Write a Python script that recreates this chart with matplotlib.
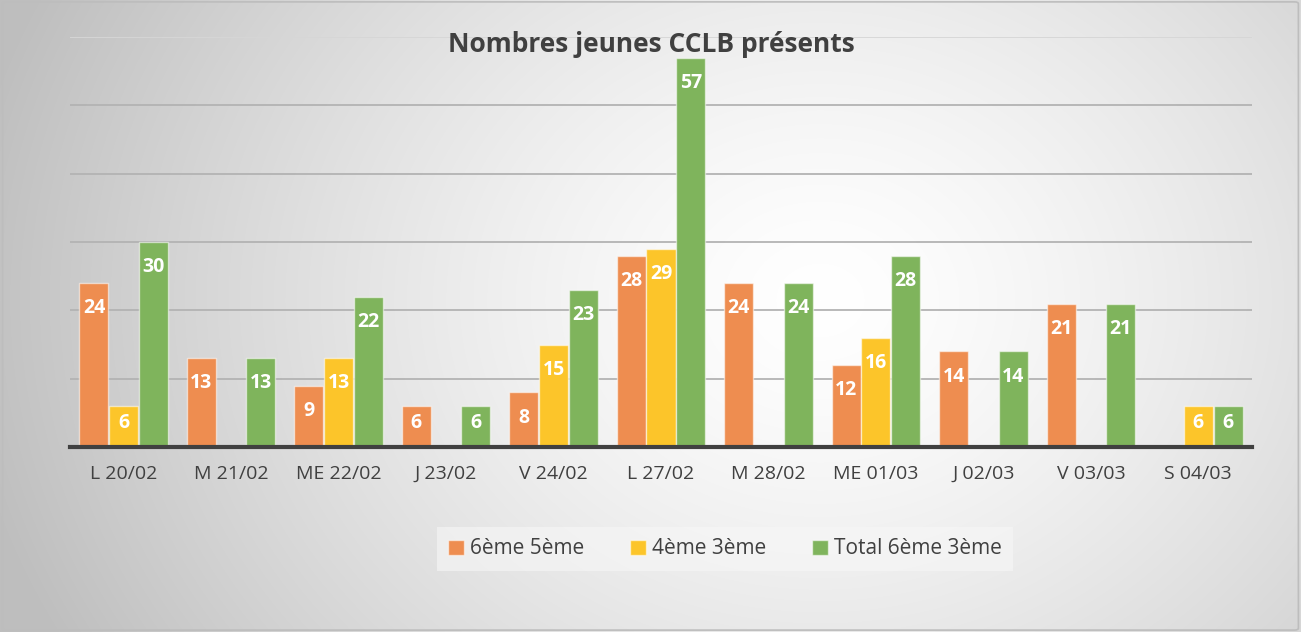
import numpy as np
import matplotlib
matplotlib.use("Agg")
import matplotlib.pyplot as plt
from matplotlib.patches import FancyBboxPatch

plt.rcParams['font.family'] = ['Open Sans', 'DejaVu Sans']

categories = ["L 20/02", "M 21/02", "ME 22/02", "J 23/02", "V 24/02", "L 27/02",
              "M 28/02", "ME 01/03", "J 02/03", "V 03/03", "S 04/03"]
s_65 = [24, 13, 9, 6, 8, 28, 24, 12, 14, 21, 0]
s_43 = [6, 0, 13, 0, 15, 29, 0, 16, 0, 0, 6]
s_tot = [30, 13, 22, 6, 23, 57, 24, 28, 14, 21, 6]
series_names = ["6ème 5ème", "4ème 3ème", "Total 6ème 3ème"]
colors = ["#EE8D50", "#FCC52A", "#7FB45C"]
title = "Nombres jeunes CCLB présents"

W, H = 1301, 632
fig = plt.figure(figsize=(W / 100, H / 100), dpi=100)

# background radial gradient
bg = fig.add_axes([0, 0, 1, 1], zorder=-10)
yy, xx = np.mgrid[0:H, 0:W]
r = np.sqrt(((xx - 820) / 1.0) ** 2 + ((yy - 300) * 1.2) ** 2)
g = 255 - 60 * np.clip(r / 820, 0, 1.3) ** 1.4
g = np.clip(g, 190, 255) / 255.0
img = np.dstack([g, g, g])
bg.imshow(img, aspect='auto', extent=[0, 1, 0, 1], origin='upper')
bg.add_patch(FancyBboxPatch((0.002, 0.003), 0.996, 0.994, boxstyle="round,pad=0,rounding_size=0.003",
                            transform=bg.transAxes, fill=False, edgecolor="#bdbdbd", lw=1.2))
bg.set_xlim(0, 1); bg.set_ylim(0, 1)
bg.axis('off')

ax = fig.add_axes([70 / W, 1 - 447 / H, (1252 - 70) / W, (447 - 37) / H])
ax.set_facecolor('none')
x = np.arange(len(categories))
bw = 0.27
series = [s_65, s_43, s_tot]
for i, (vals, c, name) in enumerate(zip(series, colors, series_names)):
    xs = x + (i - 1) * (bw + 0.007)
    v = np.array(vals, dtype=float)
    mask = v > 0
    ax.bar(xs[mask], v[mask], width=bw, color=c, edgecolor=(1, 1, 1, 0.55), linewidth=1.0,
           label=name, zorder=3)
    for xi, vi in zip(xs[mask], v[mask]):
        off = 3.7 if vi >= 8 else 2.5
        ax.text(xi, vi - off, f"{int(vi)}", ha='center', va='center', color='white',
                fontsize=14, fontweight='bold', zorder=4)

ax.set_xlim(-0.5, len(categories) - 0.5)
ax.set_ylim(0, 60)
ax.set_yticks(np.arange(0, 51, 10))
ax.yaxis.grid(True, color='#b3b3b3', linewidth=1.3, zorder=0)
ax.axhline(60, color='#d6d6d6', linewidth=1.3, zorder=0)
ax.set_axisbelow(True)
ax.tick_params(axis='y', left=False, labelleft=False)
ax.set_xticks(x)
ax.set_xticklabels(categories, fontsize=14, color='#404040')
ax.tick_params(axis='x', length=0, pad=13)
for s in ['top', 'right', 'left']:
    ax.spines[s].set_visible(False)
ax.spines['bottom'].set_color('#404040')
ax.spines['bottom'].set_linewidth(3)
ax.spines['bottom'].set_zorder(5)

fig.text(651 / W, 1 - 44 / H, title, ha='center', va='center', fontsize=19,
         fontweight='bold', color='#404040')

leg = fig.legend(loc='center', bbox_to_anchor=(725 / W, 1 - 549 / H), ncol=3, fontsize=15,
                 frameon=True, handlelength=0.75, handleheight=0.75, handletextpad=0.3,
                 columnspacing=2.2, borderpad=0.55, fancybox=False)
leg.get_frame().set_facecolor('#f7f7f7')
leg.get_frame().set_alpha(0.6)
leg.get_frame().set_edgecolor('none')
for t in leg.get_texts():
    t.set_color('#404040')

fig.savefig("out.png", dpi=100)
